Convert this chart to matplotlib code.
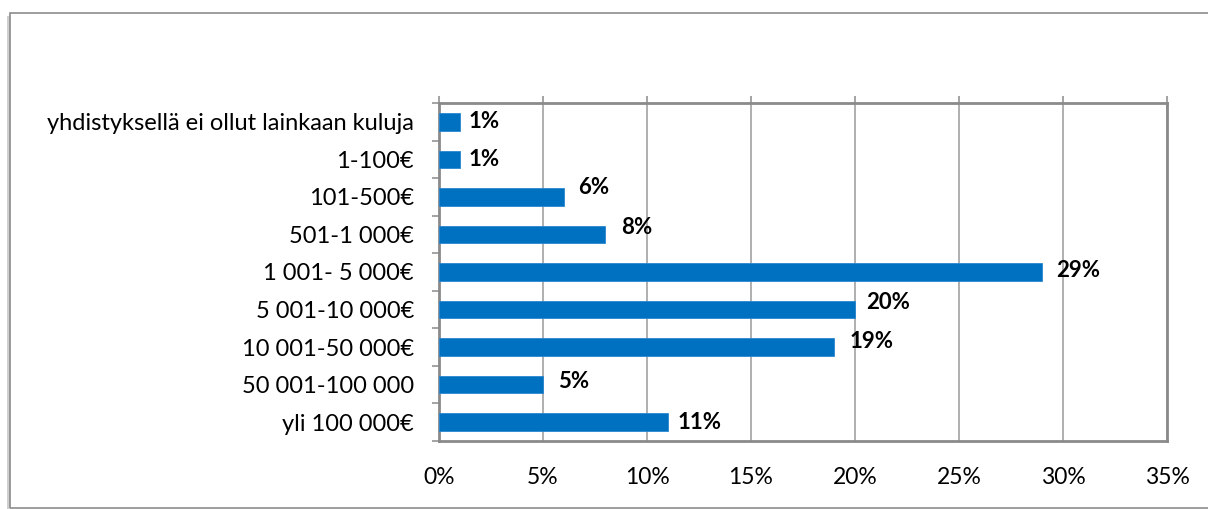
import matplotlib
matplotlib.use("Agg")
import matplotlib.pyplot as plt
from matplotlib.patches import Rectangle
from matplotlib.ticker import MultipleLocator, FuncFormatter

categories = ["yhdistyksellä ei ollut lainkaan kuluja", "1-100€", "101-500€",
              "501-1 000€", "1 001- 5 000€", "5 001-10 000€", "10 001-50 000€",
              "50 001-100 000", "yli 100 000€"]
values = [1, 1, 6, 8, 29, 20, 19, 5, 11]
labels = ["1%", "1%", "6%", "8%", "29%", "20%", "19%", "5%", "11%"]
# nudge of the value labels (points), as placed in the original
label_dy = [0, 0, 7, 5, 1, 5, 4, 2, 0]
label_dx = [6, 6, 10, 11, 10, 8, 11, 11, 7]

plt.rcParams['font.family'] = ['Lato', 'DejaVu Sans']

fig = plt.figure(figsize=(12.08, 5.09), dpi=100)
W, H = 1208, 509

# outer chart border
fig.patches.append(Rectangle((7 / W, 0), 3 / W, 1 - 16 / H, transform=fig.transFigure,
                             facecolor="#d0d0d0", edgecolor="none", zorder=0))
fig.patches.append(Rectangle((10 / W, 1 / H), 1.2, 1 - 14 / H, transform=fig.transFigure,
                             facecolor="none", edgecolor="#8c8c8c", linewidth=1.2, zorder=1))

ax = fig.add_axes([439 / W, 1 - 441 / H, (1167 - 439) / W, (441 - 103) / H])

y = list(range(len(categories)))
ax.barh(y, values, height=0.47, color="#0070C0", edgecolor="#2a86cf", linewidth=0.6, zorder=3)

for i, v in enumerate(values):
    ax.annotate(labels[i], (v, i), xytext=(label_dx[i], label_dy[i]), textcoords="offset points",
                ha="left", va="center", fontsize=16, fontweight="bold", color="black", zorder=4)

ax.set_xlim(0, 35)
ax.set_ylim(len(categories) - 0.5, -0.5)
ax.xaxis.set_major_locator(MultipleLocator(5))
ax.xaxis.set_major_formatter(FuncFormatter(lambda x, p: f"{x:.0f}%"))
ax.set_yticks(y)
ax.set_yticklabels(categories)
ax.set_yticks([i - 0.5 for i in range(len(categories) + 1)], minor=True)

ax.grid(axis="x", color="#9a9a9a", linewidth=1.1, zorder=1)
for s in ax.spines.values():
    s.set_color("#8a8a8a")
    s.set_linewidth(2)

ax.tick_params(axis="x", top=True, bottom=False, labeltop=False, labelbottom=True,
               direction="out", length=5, width=1.1, color="#8a8a8a", pad=14, labelsize=16.5)
ax.tick_params(axis="y", which="major", length=0, pad=18, labelsize=17)
ax.tick_params(axis="y", which="minor", length=5, width=1.1, color="#8a8a8a")

fig.savefig("out.png", dpi=100)
